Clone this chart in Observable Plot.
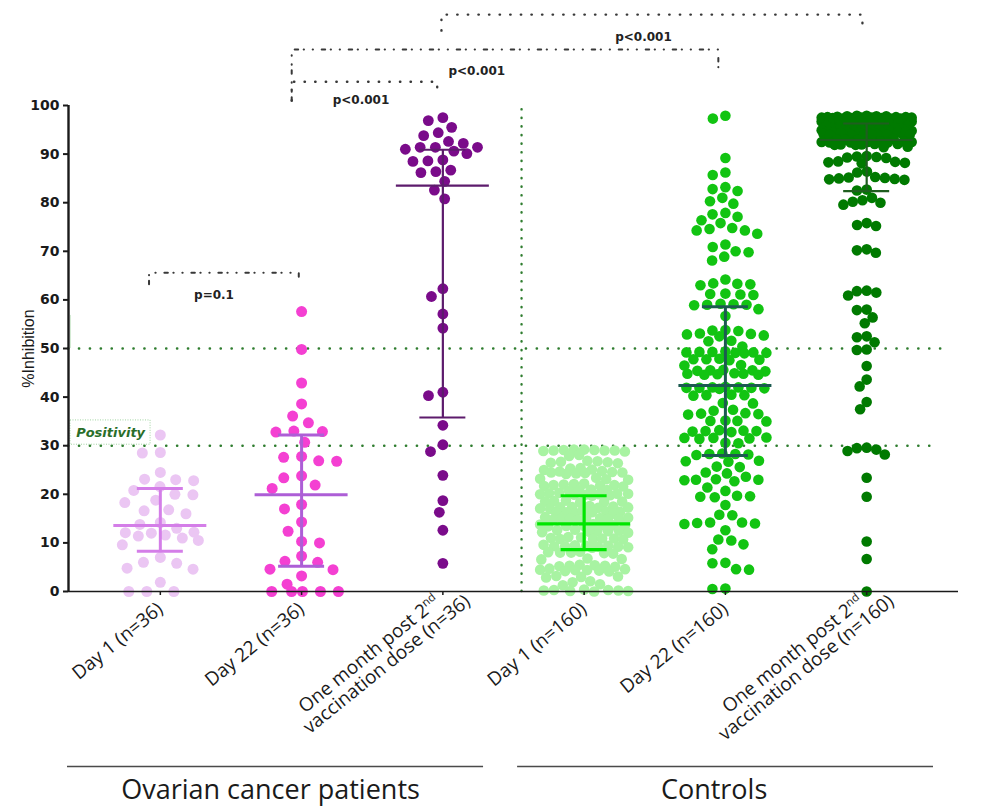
<!DOCTYPE html>
<html>
<head>
<meta charset="utf-8">
<script src="https://cdn.jsdelivr.net/npm/d3@7"></script>
<script src="https://cdn.jsdelivr.net/npm/@observablehq/plot@0.6"></script>
<style>
  html, body { margin: 0; padding: 0; background: #fff; }
  #chart { width: 982px; height: 808px; }
</style>
</head>
<body>
<div id="chart"></div>
<script>
// ---------------- DATA ----------------
const groups = [
  "Day 1 (n=36)",
  "Day 22 (n=36)",
  "One month post 2nd\nvaccination dose (n=36)",
  "Day 1 (n=160)",
  "Day 22 (n=160)",
  "One month post 2nd\nvaccination dose (n=160)"
];
const cohorts = ["Ovarian cancer patients", "Controls"];
const yTicks = [0, 10, 20, 30, 40, 50, 60, 70, 80, 90, 100];
const thresholds = [50, 30];
const positivityLabel = "Positivity";
const yLabel = "%Inhibition";

const patientsDay1 = [32.2, 28.5, 28.6, 24.5, 23.0, 22.8, 23.1, 21.6, 20.8, 20.0, 18.8, 19.9,
  18.3, 16.0, 16.6, 16.8, 13.8, 14.2, 13.0, 12.1, 11.6, 12.0, 11.4, 12.2, 11.0, 9.6, 10.5,
  7.0, 6.0, 5.8, 4.8, 4.6, 1.9, 0, 0, 0];
const patientsDay22 = [57.6, 49.8, 42.9, 38.6, 36.1, 34.7, 32.9, 33.0, 32.8, 30.7, 27.8, 27.6,
  26.8, 26.9, 23.8, 23.4, 21.2, 21.9, 17.9, 17.0, 14.3, 12.4, 10.3, 10.0, 7.3, 6.2, 6.0, 4.5,
  4.6, 3.2, 1.5, 0, 0, 0, 0, 0];
const patientsMonth = [97.5, 96.9, 95.5, 94.4, 93.8, 92.6, 92.2, 91.4, 91.4, 91.4, 91.0, 90.6,
  90.1, 88.5, 88.8, 88.6, 86.4, 86.2, 86.7, 84.4, 82.6, 80.8, 62.3, 60.7, 57.1, 54.2, 41.0,
  40.3, 34.2, 30.2, 28.8, 23.9, 18.7, 16.3, 12.6, 5.8];
const controlsDay1 = [
  29.2, 29.0, 29.1, 28.9, 29.0, 29.2, 28.8, 29.1, 29.0,
  28.1, 27.9,
  26.8, 26.5, 26.6, 26.9, 26.4, 26.7,
  25.4, 25.1, 25.3, 25.0,
  24.6, 24.3, 24.5, 24.8, 24.4, 24.2, 24.7, 24.5,
  23.4, 23.0, 23.2, 23.1,
  22.1, 21.8, 21.9, 22.0, 21.7, 21.9, 22.2, 21.6,
  20.8, 21.0, 20.9, 20.7,
  20.1, 19.9, 20.0, 20.2, 19.8, 20.0, 20.1, 19.7, 20.3, 19.9,
  18.6, 18.4, 18.5, 18.7, 18.3, 18.5,
  17.4, 17.1, 17.3, 17.5, 17.2, 17.0, 17.6, 17.3,
  16.4, 16.1, 16.3, 16.5, 16.2, 16.0, 16.6, 16.3,
  15.1, 14.9, 15.0, 15.2, 14.8, 15.0, 15.3, 14.7, 15.1, 14.9,
  13.8, 13.5, 13.6, 13.9, 13.4, 13.7, 13.5, 13.6,
  12.5, 12.2, 12.4, 12.6, 12.3, 12.1, 12.7, 12.4,
  11.0, 10.8, 10.9, 11.1, 10.7, 10.9, 11.2, 10.8,
  9.4, 9.1, 9.3, 9.5, 9.2, 9.0, 9.6, 9.3, 9.4, 9.2,
  8.1, 7.9, 8.0, 8.2, 7.8, 8.0,
  6.8, 6.6, 6.7,
  5.4, 5.2, 5.3, 5.5, 5.1, 5.3,
  4.5, 4.2, 4.4, 4.6, 4.3, 4.1, 4.7, 4.4,
  3.1, 2.9, 3.0, 3.2,
  2.1, 1.9,
  1.5, 1.3,
  0.3, 0.1, 0.2, 0.4, 0.0, 0.2, 0.3, 0.1];
const controlsDay22 = [
  97.9, 97.3, 89.2, 86.2, 85.7, 83.2, 82.4, 82.8, 80.3, 79.8, 81.0, 77.6, 77.1, 77.9, 76.4,
  75.8, 74.6, 74.3, 74.8, 73.6, 74.3,
  70.9, 70.0, 71.4, 69.8, 68.9, 68.1,
  64.2, 63.2, 63.4, 63.0, 63.3,
  61.2, 61.3, 61.0, 61.1,
  59.0, 59.1, 58.9, 59.2, 59.0,
  58.1, 56.7,
  53.7, 53.8, 53.6,
  53.1, 52.9, 53.0, 52.7, 52.5,
  51.6, 51.5,
  50.4, 49.3, 49.1, 49.4, 49.2, 49.0, 49.3, 49.1, 49.2,
  47.8, 47.7, 47.9, 47.8, 47.6,
  46.6, 46.5,
  45.5, 45.4, 45.6, 45.5, 45.3,
  44.6, 44.8, 44.7, 44.9, 44.6, 44.8,
  41.9, 42.0, 41.8, 41.9, 42.1, 41.7, 41.9, 42.0,
  40.4, 40.5, 40.3, 40.4,
  38.7, 38.8,
  37.4, 37.2,
  36.6, 36.5, 36.7, 36.4,
  35.1, 35.0, 35.2, 35.1,
  33.0, 33.1, 32.9, 33.2, 33.0, 32.8,
  31.6, 31.7, 31.5, 31.6, 31.4,
  30.6, 30.5,
  28.3, 28.4, 28.2, 28.3, 28.1,
  26.8, 26.9, 26.7,
  25.7, 25.6,
  24.3, 24.5,
  23.0, 23.1, 22.9, 23.0, 23.6,
  22.7, 21.4, 20.7,
  19.6, 19.5, 19.7, 19.4,
  17.8,
  15.8, 15.7,
  14.2, 14.0, 14.1, 13.9, 14.2,
  12.6,
  10.7, 10.5,
  9.7, 8.7,
  5.9, 5.8,
  4.6, 4.5,
  0.5, 0.6];
const controlsMonth = [
  97.8, 97.9, 97.7, 97.8, 97.9, 97.8,
  97.5, 97.4, 97.6, 97.5, 97.5, 97.4, 97.6, 97.5, 97.4, 97.6,
  97.2, 97.1, 97.3, 97.2, 97.2, 97.1, 97.3, 97.2, 97.1, 97.3,
  96.8, 96.7, 96.9, 96.8, 96.8, 96.7, 96.9, 96.8, 96.7, 96.9,
  96.4, 96.3, 96.5, 96.4, 96.3, 96.5,
  95.8, 95.9, 95.7, 95.8,
  95.3, 95.2, 95.4, 95.3, 95.2, 95.4,
  94.8, 94.7, 94.9, 94.8, 94.8, 94.7, 94.9, 94.8, 94.7, 94.9,
  94.4, 94.3, 94.5, 94.4, 94.4, 94.3, 94.5, 94.4, 94.3, 94.5,
  94.0, 93.9, 94.1, 94.0, 93.9, 94.1, 94.0, 93.9,
  93.0, 92.9, 93.1, 93.0,
  92.5, 92.4, 92.6, 92.5, 92.4, 92.6, 92.5, 92.4,
  92.0, 91.9, 92.1, 92.0, 91.9, 92.1,
  91.5, 91.4,
  89.5, 89.3, 89.4, 89.6, 89.2,
  88.5, 88.1, 88.3, 88.2, 88.4,
  86.4, 86.2,
  85.2, 84.8, 85.0, 85.3, 84.7, 84.9, 85.1,
  82.7, 82.5,
  80.5, 80.0, 79.6, 80.2, 81.0,
  75.8, 75.2, 75.4,
  70.4, 69.7, 70.2,
  61.8, 60.9, 61.5, 61.9,
  58.0, 57.9,
  56.4, 55.2,
  52.3, 52.5, 51.3,
  49.7, 49.8,
  46.4,
  43.6, 42.2,
  39.0, 37.5,
  29.5, 28.9, 28.2, 29.2, 29.6,
  23.4, 19.5, 10.3, 6.7, 0.0];

// summary statistics (median and interquartile range)
const medians = [13.6, 19.9, 83.5, 13.9, 42.4, 92.9];
const q1 = [8.3, 5.2, 35.8, 8.6, 28.0, 82.4];
const q3 = [21.2, 32.2, 90.9, 19.7, 58.6, 96.3];

// pairwise comparisons
const comparisons = [
  {from: 2, to: 5, label: "p<0.001"},
  {from: 1, to: 4, label: "p<0.001"},
  {from: 1, to: 2, label: "p<0.001"},
  {from: 0, to: 1, label: "p=0.1"}
];

// ---------------- STYLE / LAYOUT ----------------
const W = 982, H = 808;
const M = {top: 105, right: 24, bottom: 217, left: 68};
const xDomain = [-0.65, 5.65];
const yDomain = [0, 100];
const pxPerX = (W - M.left - M.right) / (xDomain[1] - xDomain[0]);
const pxPerY = (H - M.top - M.bottom) / (yDomain[1] - yDomain[0]);

const dotColors = ["#ebc6f3", "#f440d2", "#7a0b8a", "#a8f3a2", "#12c412", "#007a00"];
const barColors = ["#d47ee8", "#ad5ed6", "#5d1b6c", "#00e600", "#1c5b50", "#1f5e1f"];
const barWidths = [3, 3, 2.2, 3.2, 3, 2.2];
const dotRadius = [5.5, 5.5, 5.4, 5.3, 5.3, 5.3];
// swarm spacing in pixels: horizontal step, vertical reach, max half-width
const swarmParams = [
  {dx: 18, dy: 14, half: 38},
  {dx: 18, dy: 14, half: 40},
  {dx: 15, dy: 12, half: 40},
  {dx: 10.2, dy: 9.8, half: 44},
  {dx: 13, dy: 11, half: 41},
  {dx: 9.8, dy: 9.8, half: 45}
];
const medianHalf = 46.5 / pxPerX;
const capHalf = 23 / pxPerX;
const secondLineShift = 24; // px, along the rotated label

const greenDot = "#2f7d2f";
const bracketInk = "#383838";
const dotted = "0.4 10.2";
const dashDot = "3.5 5.5 0.3 8.7 0.3 8.7";

// bracket geometry (data units)
const bracketLayout = [
  {top: 118.7, legL: 115.4, legR: 115.8, dL: -0.01, dR: -0.03, lx: 3.42, ly: 114.0, dash: dotted},
  {top: 111.5, legL: 101.0, legR: 107.6, dL: -0.07, dR: -0.05, lx: 2.24, ly: 107.0, dash: dashDot},
  {top: 104.9, legL: 101.0, legR: 102.7, dL: -0.07, dR: -0.04, lx: 1.42, ly: 101.2, dash: dotted},
  {top: 65.6, legL: 63.2, legR: 64.0, dL: -0.08, dR: -0.02, lx: 0.38, ly: 60.9, dash: dashDot}
];
const thresholdEnds = [5.56, 5.47];
const cohortDivider = 2.557;
const cohortLayout = [
  {x1: -0.657, x2: 2.288, cx: 0.78},
  {x1: 2.529, x2: 5.473, cx: 3.92}
];
const cohortLineY = -36;
const cohortTextY = -41.0;
const positivityBox = {x1: -0.636, x2: -0.069, y1: 30.2, y2: 35.2, tx: -0.352, ty: 32.6};

// ---------------- SWARM LAYOUT (elliptical collision, width-capped) ----------------
function swarm(values, P) {
  const {dx: Dx, dy: Dy, half} = P;
  const order = d3.range(values.length).sort((a, b) => values[b] - values[a]);
  const placed = [];
  const out = new Array(values.length);
  const dist = (p, c, y) => Math.hypot((p.x - c) / Dx, (p.y - y) / Dy);
  for (const i of order) {
    const y = values[i] * pxPerY;
    const near = placed.filter(p => Math.abs(p.y - y) < Dy);
    const cands = [0];
    for (const p of near) {
      const w = Dx * Math.sqrt(1 - ((p.y - y) / Dy) ** 2);
      cands.push(p.x - w, p.x + w);
    }
    cands.sort((a, b) => Math.abs(a) - Math.abs(b) || a - b);
    let best = null;
    for (const c of cands) {
      if (Math.abs(c) > half + 1e-6) continue;
      if (near.every(p => dist(p, c, y) >= 1 - 1e-6)) { best = c; break; }
    }
    if (best === null) {
      let bestScore = -Infinity;
      for (let c = -half; c <= half + 1e-9; c += 1) {
        const m = d3.min(near, p => dist(p, c, y));
        if (m > bestScore + 1e-9 || (Math.abs(m - bestScore) < 1e-9 && Math.abs(c) < Math.abs(best))) {
          bestScore = m; best = c;
        }
      }
    }
    placed.push({x: best, y});
    out[i] = best;
  }
  return out;
}

const series = [patientsDay1, patientsDay22, patientsMonth, controlsDay1, controlsDay22, controlsMonth];
const groupPoints = series.map((vals, g) => {
  const offs = swarm(vals, swarmParams[g]);
  return vals.map((v, i) => ({g, v, x: g + offs[i] / pxPerX}));
});
const stats = groups.map((name, g) => ({g, med: medians[g], lo: q1[g], hi: q3[g]}));

const bracketLines = comparisons.flatMap((c, i) => {
  const L = bracketLayout[i];
  const xl = c.from + L.dL, xr = c.to + L.dR;
  return [
    {i, x: xl, y: L.legL}, {i, x: xl, y: L.top}, {i, x: xr, y: L.top}, {i, x: xr, y: L.legR}
  ];
});

// ---------------- MARKS ----------------
const marks = [];

marks.push(Plot.ruleY(thresholds, {
  y: d => d, x1: xDomain[0], x2: (d, i) => thresholdEnds[i],
  stroke: greenDot, strokeWidth: 2.4, strokeDasharray: "0.3 10.6", strokeLinecap: "round"
}));
marks.push(Plot.ruleX([cohortDivider], {
  x: d => d, y1: 0, y2: 100.6,
  stroke: greenDot, strokeWidth: 2.4, strokeDasharray: "0.3 8.3", strokeLinecap: "round"
}));
marks.push(Plot.ruleX([positivityBox.x1], {x: d => d, y1: 50, y2: 56.8, stroke: "#d3ebd3", strokeWidth: 1}));
marks.push(Plot.rect([positivityBox], {
  x1: "x1", x2: "x2", y1: "y1", y2: "y2", fill: "none",
  stroke: "#9fd39f", strokeWidth: 1, strokeDasharray: "1 1.5"
}));
marks.push(Plot.text([positivityLabel], {
  x: positivityBox.tx, y: positivityBox.ty, text: d => d,
  fontFamily: "DejaVu Sans", fontWeight: "bold", fontStyle: "italic", fontSize: 13, fill: "#2a6e2a"
}));

groupPoints.forEach((pts, g) => {
  marks.push(Plot.dot(pts, {x: "x", y: "v", r: dotRadius[g], fill: dotColors[g], stroke: "none"}));
});

stats.forEach(s => {
  const c = barColors[s.g], w = barWidths[s.g];
  marks.push(Plot.ruleX([s], {x: "g", y1: "lo", y2: "hi", stroke: c, strokeWidth: w}));
  marks.push(Plot.ruleY([s], {y: "med", x1: d => d.g - medianHalf, x2: d => d.g + medianHalf, stroke: c, strokeWidth: w}));
  marks.push(Plot.ruleY([s, s], {y: (d, i) => i ? d.hi : d.lo, x1: d => d.g - capHalf, x2: d => d.g + capHalf, stroke: c, strokeWidth: w}));
});

marks.push(Plot.ruleX([xDomain[0]], {x: d => d, y1: 0, y2: 100, stroke: "#1a1a1a", strokeWidth: 2.4}));
marks.push(Plot.ruleY([0], {y: d => d, stroke: "#1a1a1a", strokeWidth: 1.6}));

marks.push(Plot.axisY({
  ticks: yTicks, tickSize: 5, tickPadding: 4, strokeWidth: 2, stroke: "#1a1a1a",
  fontSize: 14, fontWeight: "bold", fontFamily: "DejaVu Sans", fill: "#1a1a1a", label: null
}));
marks.push(Plot.axisX({
  ticks: d3.range(groups.length),
  tickFormat: i => groups[i],
  tickRotate: -39, tickSize: 4, tickPadding: 11, strokeWidth: 1.5, stroke: "#1a1a1a",
  fontSize: 19, fontFamily: "Open Sans", fill: "#1a1a1a", label: null
}));
marks.push(Plot.text([yLabel], {
  frameAnchor: "left", dx: -40, rotate: -90, text: d => d, textAnchor: "middle",
  fontSize: 16, fontFamily: "Liberation Sans", fill: "#1a1a1a"
}));

marks.push(Plot.line(bracketLines.filter(d => bracketLayout[d.i].dash === dotted), {
  x: "x", y: "y", z: "i", stroke: bracketInk, strokeWidth: 2.4,
  strokeDasharray: dotted, strokeLinecap: "round", strokeLinejoin: "round"
}));
marks.push(Plot.line(bracketLines.filter(d => bracketLayout[d.i].dash === dashDot), {
  x: "x", y: "y", z: "i", stroke: bracketInk, strokeWidth: 2,
  strokeDasharray: dashDot, strokeLinecap: "round", strokeLinejoin: "round"
}));
marks.push(Plot.text(comparisons, {
  x: (d, i) => bracketLayout[i].lx, y: (d, i) => bracketLayout[i].ly, text: "label",
  fontFamily: "DejaVu Sans", fontWeight: "bold", fontSize: 12, fill: "#222"
}));

marks.push(Plot.ruleY(cohorts, {
  y: cohortLineY, x1: (d, i) => cohortLayout[i].x1, x2: (d, i) => cohortLayout[i].x2,
  stroke: "#4a4a4a", strokeWidth: 1.5
}));
marks.push(Plot.text(cohorts, {
  x: (d, i) => cohortLayout[i].cx, y: cohortTextY, text: d => d,
  fontFamily: "Open Sans", fontSize: 27, fill: "#1a1a1a"
}));

const svg = Plot.plot({
  width: W, height: H,
  marginTop: M.top, marginRight: M.right, marginBottom: M.bottom, marginLeft: M.left,
  x: {type: "linear", domain: xDomain},
  y: {domain: yDomain},
  style: {background: "#fff", fontFamily: "Open Sans", overflow: "visible"},
  marks
});

// second line of the two-line tick labels sits a little further along, as in the reference
svg.querySelectorAll("tspan").forEach(t => {
  if (t.textContent.startsWith("vaccination")) t.setAttribute("dx", secondLineShift);
});

// superscript "nd" in "2nd"
(function superscript(root) {
  const walker = document.createTreeWalker(root, NodeFilter.SHOW_TEXT);
  const nodes = [];
  while (walker.nextNode()) if (walker.currentNode.data.includes("2nd")) nodes.push(walker.currentNode);
  for (const n of nodes) {
    const k = n.data.indexOf("2nd");
    const before = n.data.slice(0, k + 1), after = n.data.slice(k + 3);
    const sup = document.createElementNS("http://www.w3.org/2000/svg", "tspan");
    sup.setAttribute("baseline-shift", "super");
    sup.setAttribute("style", "font-size:0.6em");
    sup.textContent = "nd";
    const p = n.parentNode;
    p.insertBefore(document.createTextNode(before), n);
    p.insertBefore(sup, n);
    if (after) p.insertBefore(document.createTextNode(after), n);
    p.removeChild(n);
  }
})(svg);

document.getElementById("chart").appendChild(svg);
</script>
</body>
</html>
